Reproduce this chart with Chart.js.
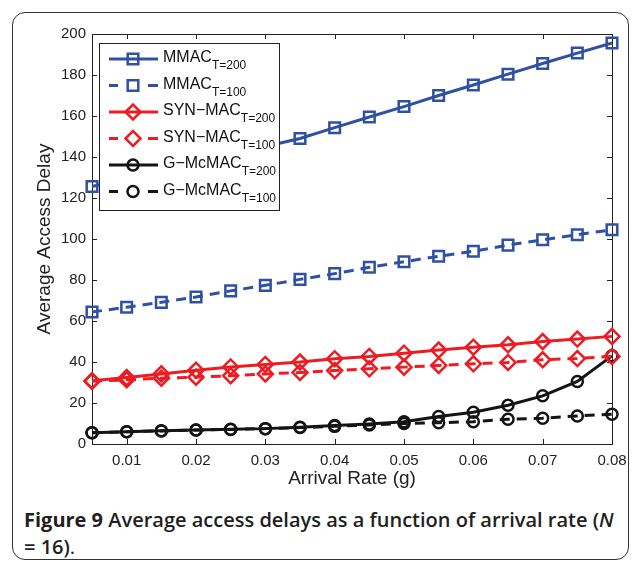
<!DOCTYPE html>
<html>
<head>
<meta charset="utf-8">
<script src="https://cdn.jsdelivr.net/npm/chart.js@4"></script>
<style>
  html, body { margin: 0; padding: 0; background: #fff; }
  #wrap { position: relative; width: 637px; height: 564px; overflow: hidden; }
  #card {
    position: absolute; left: 12px; top: 12px; width: 617px; height: 548px;
    border: 1.5px solid #333; border-radius: 13px; box-sizing: border-box;
  }
  #chart { position: absolute; left: 0; top: 0; }
  #caption {
    position: absolute; left: 24px; top: 506px; width: 610px;
    font-family: "Open Sans", sans-serif; font-size: 20px; font-weight: 600;
    line-height: 27px; color: #231f20; white-space: nowrap;
  }
  #caption b { font-weight: 700; }
  #caption .end { font-weight: 400; }
</style>
</head>
<body>
<div id="wrap">
  <div id="card"></div>
  <canvas id="chart" width="637" height="500"></canvas>
  <div id="caption"><b>Figure 9</b> Average access delays as a function of arrival rate (<i>N</i><br>= 16)<span class="end">.</span></div>
</div>
<script>
'use strict';

const arrivalRate = [0.005, 0.01, 0.015, 0.02, 0.025, 0.03, 0.035, 0.04,
  0.045, 0.05, 0.055, 0.06, 0.065, 0.07, 0.075, 0.08];
const xTicks = [0.01, 0.02, 0.03, 0.04, 0.05, 0.06, 0.07, 0.08];
const yTicks = [0, 20, 40, 60, 80, 100, 120, 140, 160, 180, 200];

const mmac200 = [125.6, 129.5, 133.4, 137.3, 141.2, 145.1, 149.0, 154.3,
  159.5, 164.6, 170.0, 175.1, 180.4, 185.6, 190.7, 195.6];
const mmac100 = [64.4, 66.7, 69.1, 71.7, 74.7, 77.4, 80.3, 83.1,
  86.2, 88.9, 91.6, 94.0, 97.0, 99.6, 102.1, 104.5];
const syn200 = [30.8, 32.4, 34.2, 36.0, 37.6, 38.8, 40.0, 41.6,
  42.7, 44.3, 45.8, 47.2, 48.4, 50.0, 51.2, 52.5];
const syn100 = [30.6, 31.3, 32.1, 32.6, 33.3, 34.2, 34.9, 35.8,
  36.7, 37.5, 38.3, 39.1, 39.8, 41.1, 41.7, 42.7];
const gmc200 = [5.5, 6.0, 6.5, 6.8, 7.2, 7.5, 8.2, 9.0,
  9.8, 10.9, 13.4, 15.5, 18.9, 23.5, 30.5, 43.0];
const gmc100 = [5.5, 6.0, 6.4, 6.8, 7.1, 7.5, 8.0, 8.6,
  9.3, 10.0, 10.4, 10.9, 12.1, 12.6, 13.7, 14.5];

const seriesNames = ['MMAC', 'MMAC', 'SYN\u2212MAC', 'SYN\u2212MAC', 'G\u2212McMAC', 'G\u2212McMAC'];
const seriesSubs = ['T=200', 'T=100', 'T=200', 'T=100', 'T=200', 'T=100'];

const BLUE = '#3050a2';
const RED = '#ec1c24';
const BLACK = '#141414';
const DASH = [10, 7];
const AXIS_FONT = '"Liberation Sans", Arial, sans-serif';

function series(idx, values, color, dashed, style, radius) {
  return {
    label: seriesNames[idx],
    sub: seriesSubs[idx],
    data: arrivalRate.map((x, i) => ({ x: x, y: values[i] })),
    borderColor: color,
    borderWidth: 3,
    borderDash: dashed ? DASH : [],
    pointStyle: style,
    pointRadius: radius,
    pointBorderWidth: 2.5,
    pointBorderColor: color,
    pointBackgroundColor: 'rgba(0,0,0,0)',
    pointHoverRadius: radius,
    tension: 0,
    clip: false
  };
}

// MATLAB-like box with inward ticks
const framePlugin = {
  id: 'frame',
  beforeDatasetsDraw(chart) {
    const { ctx, chartArea: a, scales } = chart;
    ctx.save();
    ctx.strokeStyle = '#222';
    ctx.lineWidth = 1;
    ctx.strokeRect(a.left + 0.5, a.top + 0.5, a.right - a.left, a.bottom - a.top);
    ctx.beginPath();
    xTicks.forEach(v => {
      const px = Math.round(scales.x.getPixelForValue(v)) + 0.5;
      ctx.moveTo(px, a.bottom); ctx.lineTo(px, a.bottom - 5);
      ctx.moveTo(px, a.top); ctx.lineTo(px, a.top + 5);
    });
    yTicks.forEach(v => {
      const py = Math.round(scales.y.getPixelForValue(v)) + 0.5;
      ctx.moveTo(a.left, py); ctx.lineTo(a.left + 5, py);
      ctx.moveTo(a.right, py); ctx.lineTo(a.right - 5, py);
    });
    ctx.stroke();
    ctx.restore();
  }
};

// legend with subscripted labels, drawn over the lines
const legendPlugin = {
  id: 'subLegend',
  afterDatasetsDraw(chart) {
    const ctx = chart.ctx;
    const box = { x: 99.5, y: 43.5, w: 180, h: 167 };
    ctx.save();
    ctx.fillStyle = '#fff';
    ctx.fillRect(box.x, box.y, box.w, box.h);
    ctx.strokeStyle = '#222';
    ctx.lineWidth = 1;
    ctx.strokeRect(box.x, box.y, box.w, box.h);
    chart.data.datasets.forEach((ds, i) => {
      const cy = 59 + i * 26.5;
      ctx.strokeStyle = ds.borderColor;
      ctx.lineWidth = 3;
      if (ds.borderDash.length) {
        ctx.beginPath();
        ctx.moveTo(109, cy); ctx.lineTo(118, cy);
        ctx.moveTo(148, cy); ctx.lineTo(158, cy);
        ctx.stroke();
      } else {
        ctx.beginPath();
        ctx.moveTo(109, cy); ctx.lineTo(158, cy);
        ctx.stroke();
      }
      ctx.lineWidth = ds.pointBorderWidth;
      ctx.fillStyle = 'rgba(0,0,0,0)';
      Chart.helpers.drawPoint(ctx, {
        pointStyle: ds.pointStyle, radius: ds.pointRadius, rotation: 0, borderWidth: ds.pointBorderWidth
      }, 133, cy);
      ctx.fillStyle = '#111';
      ctx.textBaseline = 'alphabetic';
      ctx.font = '16px ' + AXIS_FONT;
      ctx.fillText(ds.label, 163, cy + 3);
      const w = ctx.measureText(ds.label).width;
      ctx.font = '12px ' + AXIS_FONT;
      ctx.fillText(ds.sub, 163 + w, cy + 10);
    });
    ctx.restore();
  }
};

new Chart(document.getElementById('chart').getContext('2d'), {
  type: 'line',
  data: {
    datasets: [
      series(0, mmac200, BLUE, false, 'rect', 7.5),
      series(1, mmac100, BLUE, true, 'rect', 7.5),
      series(2, syn200, RED, false, 'rectRot', 7.5),
      series(3, syn100, RED, true, 'rectRot', 7.5),
      series(4, gmc200, BLACK, false, 'circle', 5.5),
      series(5, gmc100, BLACK, true, 'circle', 5.5)
    ]
  },
  options: {
    responsive: false,
    animation: false,
    events: [],
    layout: { padding: { left: 0, top: 34, right: 25, bottom: 0 } },
    plugins: { legend: { display: false }, tooltip: { enabled: false } },
    scales: {
      x: {
        type: 'linear',
        min: 0.005,
        max: 0.08,
        afterBuildTicks: s => { s.ticks = xTicks.map(v => ({ value: v })); },
        afterFit: s => { s.height = 56; },
        grid: { display: false, drawTicks: false },
        border: { display: false },
        ticks: {
          padding: 8,
          color: '#222',
          font: { family: AXIS_FONT, size: 15 },
          maxRotation: 0,
          autoSkip: false,
          callback: v => String(v)
        },
        title: {
          display: true,
          text: 'Arrival Rate (g)',
          color: '#222',
          font: { family: AXIS_FONT, size: 19 },
          padding: { top: 0, bottom: 10 }
        }
      },
      y: {
        min: 0,
        max: 200,
        afterBuildTicks: s => { s.ticks = yTicks.map(v => ({ value: v })); },
        afterFit: s => { s.width = 92; },
        grid: { display: false, drawTicks: false },
        border: { display: false },
        ticks: {
          padding: 6,
          color: '#222',
          font: { family: AXIS_FONT, size: 15 },
          autoSkip: false
        },
        title: {
          display: true,
          text: 'Average Access Delay',
          color: '#222',
          font: { family: AXIS_FONT, size: 19 },
          padding: { top: 33, bottom: 0 }
        }
      }
    }
  },
  plugins: [framePlugin, legendPlugin]
});
</script>
</body>
</html>
